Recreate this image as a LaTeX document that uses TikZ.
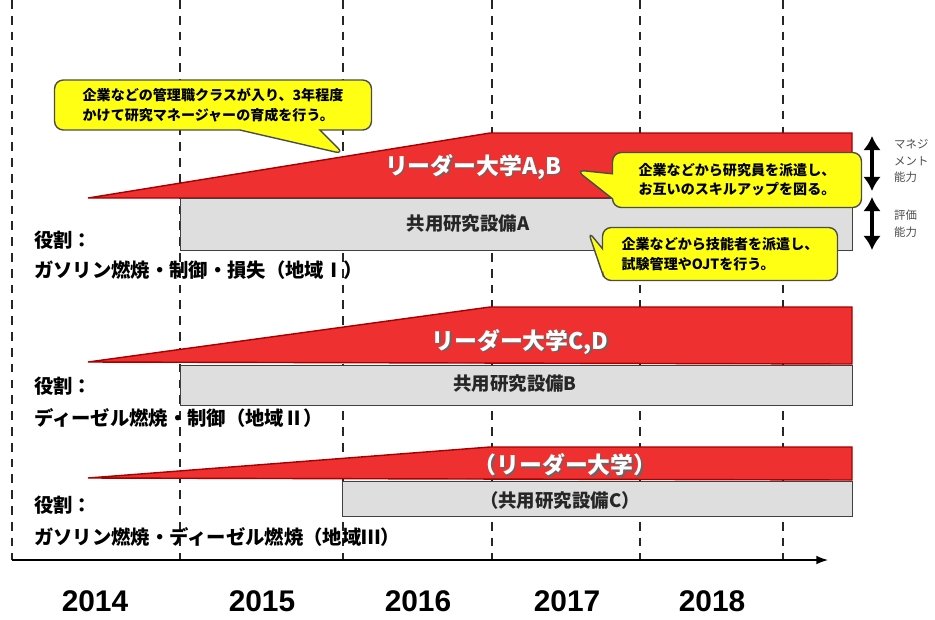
\documentclass[tikz,border=0pt]{standalone}
\usepackage{fontspec}
\setmainfont{Noto Sans CJK JP}
\newfontfamily\yearfont{Liberation Sans}
\usetikzlibrary{shapes.callouts}
\usetikzlibrary{positioning}
\usetikzlibrary{arrows.meta}
\definecolor{bandred}{RGB}{238,48,48}
\definecolor{noteyellow}{RGB}{255,255,20}
\tikzset{
    grid/.style = {thick,dash pattern=on 5pt off 4pt,black!85},
    axis/.style = {-Latex,thick,black},
    band/.style = {fill=bandred,draw=red!65!black,line width=0.8pt},
    facility/.style = {rectangle, draw=black!75, fill=black!13, line width=0.8pt},
    bandlabel/.style = {text=white,font=\bfseries\fontsize{13}{15}\selectfont},
    bandshadow/.style = {text=black!60,font=\bfseries\fontsize{13}{15}\selectfont},
    faclabel/.style = {text=black!85,font=\bfseries\fontsize{10.5}{12}\selectfont},
    role/.style = {anchor=west,align=left,font=\bfseries\fontsize{11}{13}\selectfont},
    note/.style = {rectangle callout, rounded corners=5pt, draw=black!70, line width=0.8pt,
                   fill=noteyellow, align=left, inner sep=4pt,
                   font=\bfseries\fontsize{8}{11}\selectfont},
    year/.style = {font=\yearfont\bfseries\fontsize{17}{19}\selectfont},
    skill/.style = {anchor=west,align=left,text=black!70,font=\fontsize{6.5}{9.5}\selectfont},
    skillarrow/.style = {{Latex[length=8pt,width=10pt]}-{Latex[length=8pt,width=10pt]},line width=2.6pt}
}

\begin{document}
\begin{tikzpicture}[x=0.02cm,y=-0.02cm]
\useasboundingbox (0,0) rectangle (935,619);
%
\draw[grid] (12,0) -- (12,560);
\foreach \gx in {180,343,492,640,783}
  \draw[grid] (\gx,0) -- (\gx,560);
\coordinate (o) at (12,560);
\coordinate (e) at (828,560);
\draw[axis] (o) -- (e);
%
\node[year] at (95,601) (y14) {2014};
\node[year] at (262,601) (y15) {2015};
\node[year] at (418,601) (y16) {2016};
\node[year] at (567,601) (y17) {2017};
\node[year] at (712,601) (y18) {2018};
%
% row 1
\fill[band] (88,198) -- (490,133) -- (852,133) -- (852,198) -- cycle;
\node[facility, anchor=north west, minimum width=13.44cm, minimum height=1.04cm] at (180,198) (fa) {};
\node[bandshadow] at (474.5,168.5) (lab-s) {リーダー大学A,B};
\node[bandlabel] at (473,167) (lab) {リーダー大学A,B};
\node[faclabel] at (468,224) (facA) {共用研究設備A};
\node[role] at (28,240) (r1a) {役割：};
\node[role] at (28,270) (r1b) {ガソリン燃焼・制御・損失（地域Ⅰ）};
%
% row 2
\fill[band] (88,362) -- (490,307) -- (852,307) -- (852,364) -- cycle;
\node[facility, anchor=north west, minimum width=13.44cm, minimum height=0.8cm] at (180,365) (fb) {};
\node[bandshadow] at (521.5,343.5) (lcd-s) {リーダー大学C,D};
\node[bandlabel] at (520,342) (lcd) {リーダー大学C,D};
\node[faclabel] at (515,384) (facB) {共用研究設備B};
\node[role] at (28,386) (r2a) {役割：};
\node[role] at (28,418) (r2b) {ディーゼル燃焼・制御（地域Ⅱ）};
%
% row 3
\fill[band] (88,478) -- (490,447) -- (852,447) -- (852,480) -- cycle;
\node[facility, anchor=north west, minimum width=10.2cm, minimum height=0.7cm] at (342,481) (fc) {};
\node[bandshadow] at (566.5,466.5) (lx-s) {（リーダー大学）};
\node[bandlabel] at (565,465) (lx) {（リーダー大学）};
\node[faclabel] at (560,500) (facC) {（共用研究設備C）};
\node[role] at (28,505) (r3a) {役割：};
\node[role] at (28,537) (r3b) {ガソリン燃焼・ディーゼル燃焼（地域Ⅲ）};
%
% notes
\node[note, minimum width=6.34cm, minimum height=1.0cm, callout absolute pointer={(344,154)},
      callout pointer width=1.6cm] at (213,105) (n1)
  {企業などの管理職クラスが入り、3年程度\\かけて研究マネージャーの育成を行う。};
\node[note, minimum width=4.98cm, minimum height=1.1cm, callout absolute pointer={(576,170)},
      callout pointer width=0.5cm] at (737,180) (n2)
  {企業などから研究員を派遣し、\\お互いのスキルアップを図る。};
\node[note, minimum width=4.7cm, minimum height=1.06cm, callout absolute pointer={(588,231)},
      callout pointer width=0.5cm] at (720,254) (n3)
  {企業などから技能者を派遣し、\\試験管理やOJTを行う。};
%
% skills
\coordinate (m1) at (872,136);
\coordinate (m2) at (872,191);
\coordinate (h1) at (872,197);
\coordinate (h2) at (872,250);
\draw[skillarrow] (m1) -- (m2);
\draw[skillarrow] (h1) -- (h2);
\node[skill] at (888,161) (mgmt) {マネジ\\メント\\能力};
\node[skill] at (888,224) (eval) {評価\\能力};
\end{tikzpicture}
\end{document}
